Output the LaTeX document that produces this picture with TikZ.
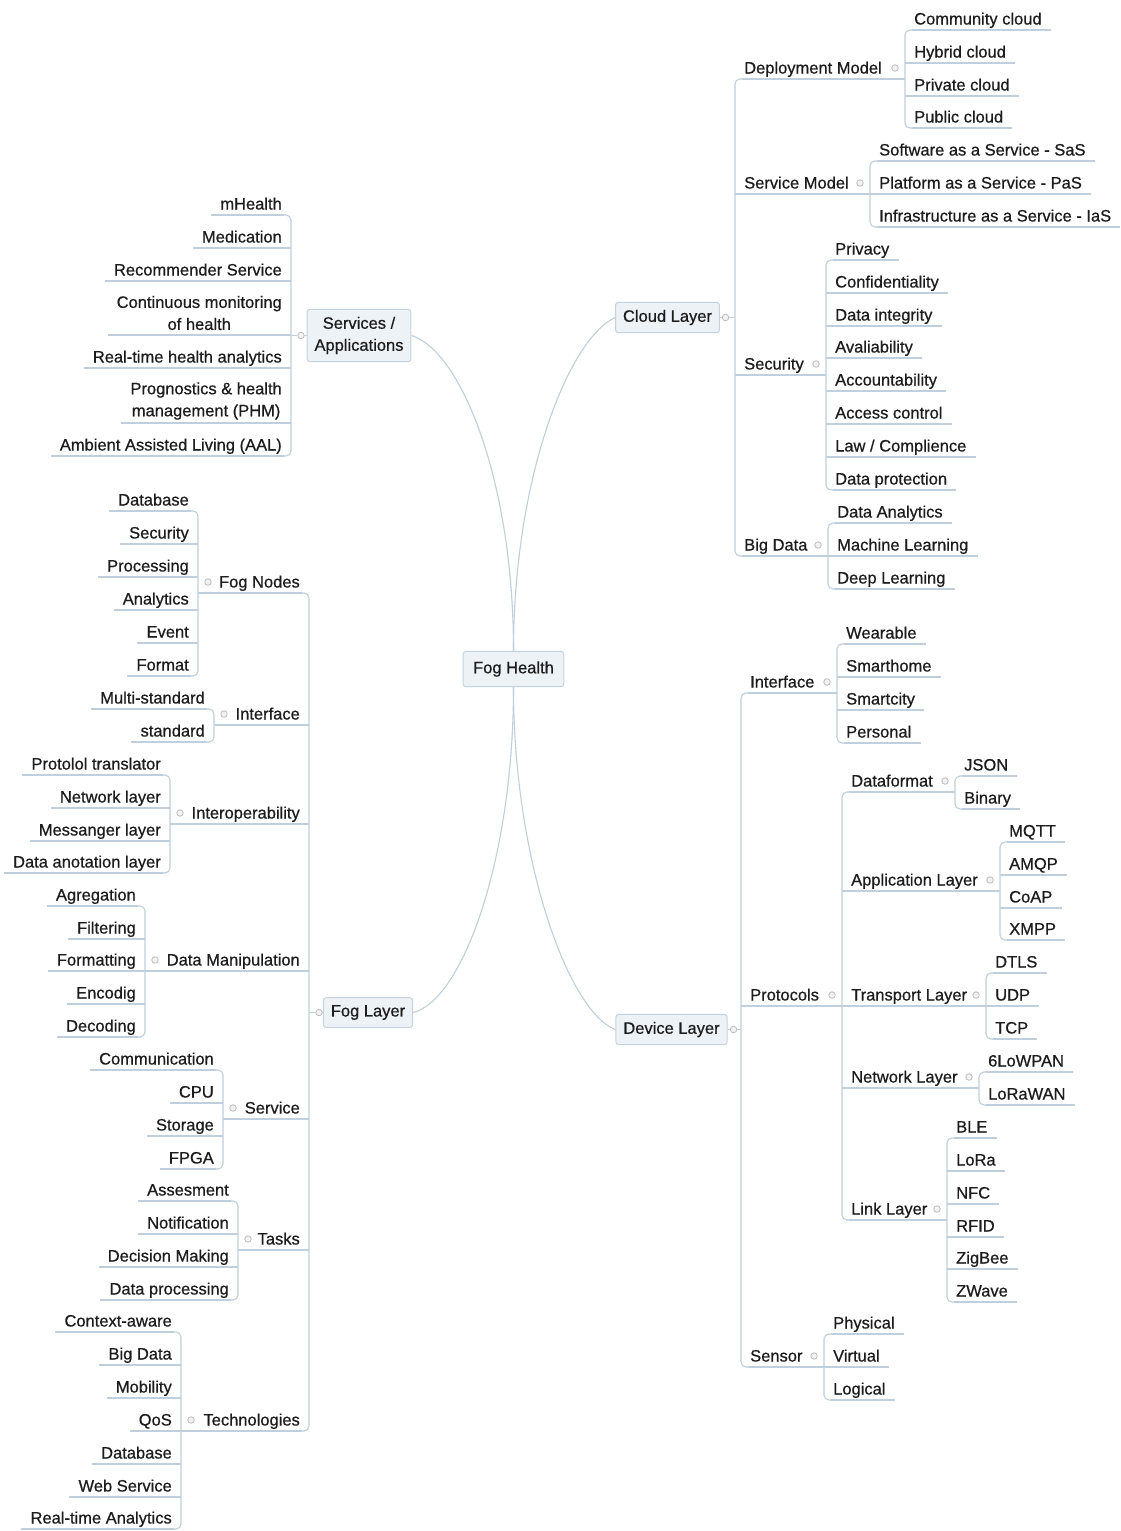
\documentclass[tikz,border=0pt]{standalone}
\usepackage{fontspec}
\setmainfont{Liberation Sans}[BoldFont=Liberation Sans, BoldFeatures={FakeBold=0.6}]
\usetikzlibrary{calc}

\definecolor{txt}{HTML}{1C1C1C}
\definecolor{lnc}{HTML}{BFCFDB}
\definecolor{boxfill}{HTML}{EDF2F7}
\definecolor{boxline}{HTML}{C4D2DE}
\definecolor{knobc}{HTML}{BDBDBD}

\tikzset{
  ln/.style={draw=lnc, line width=1.1pt},
  lbl/.style={font=\fontsize{16.5}{20}\selectfont\bfseries, text=txt, inner sep=0pt,
              text height=13.5pt, text depth=2.5pt},
  lbltwo/.style={font=\fontsize{16.5}{22}\selectfont\bfseries, text=txt, inner sep=0pt, align=center},
  topbox/.style={font=\fontsize{16.5}{22}\selectfont\bfseries, text=txt, draw=boxline, fill=boxfill,
                 line width=1pt, rounded corners=3pt, inner xsep=7.5pt, inner ysep=7.5pt, align=center},
  knob/.style={circle, draw=knobc, fill=gray!10, line width=0.8pt, inner sep=0pt, minimum size=6.5pt}
}

% children to the right of a branch line at x=#1; first / last text rows #2 / #3
% items: name/y/text/x of own branch line (0 for a leaf)
\newcommand\kidsR[4]{%
  \draw[ln, rounded corners=5pt] (#1+7,#2+11) -- (#1,#2+11) -- (#1,#3+11) -- (#1+7,#3+11);
  \foreach \nm/\yy/\tx/\xe in {#4}{%
    \node[lbl, anchor=west] (\nm) at (#1+9,\yy) {\tx};
    \ifdim\yy pt=#2pt \def\xs{#1+7}\else\ifdim\yy pt=#3pt \def\xs{#1+7}\else\def\xs{#1}\fi\fi
    \ifdim\xe pt=0pt
      \draw[ln] (\xs,\yy+11) -- ($(\nm.east)+(9,11)$);
    \else
      \draw[ln] (\xs,\yy+11) -- (\xe,\yy+11);
      \node[knob] (\nm-k) at (\xe-10,\yy) {};
    \fi
  }}

% mirrored version: children to the left of a branch line
\newcommand\kidsL[4]{%
  \draw[ln, rounded corners=5pt] (#1-7,#2+11) -- (#1,#2+11) -- (#1,#3+11) -- (#1-7,#3+11);
  \foreach \nm/\yy/\tx/\xe in {#4}{%
    \node[lbl, anchor=east] (\nm) at (#1-9,\yy) {\tx};
    \ifdim\yy pt=#2pt \def\xs{#1-7}\else\ifdim\yy pt=#3pt \def\xs{#1-7}\else\def\xs{#1}\fi\fi
    \ifdim\xe pt=0pt
      \draw[ln] (\xs,\yy+11) -- ($(\nm.west)+(-9,11)$);
    \else
      \draw[ln] (\xs,\yy+11) -- (\xe,\yy+11);
      \node[knob] (\nm-k) at (\xe+10,\yy) {};
    \fi
  }}

\begin{document}
\begin{tikzpicture}[x=1pt, y=-1pt]
\fill[white] (0,0) rectangle (1121,1531);
\path[use as bounding box] (0,0) rectangle (1121,1531);

% ---------- root and main branches ----------
\node[topbox, inner xsep=10pt, inner ysep=10pt] (fh) at (513.5,669) {Fog Health};
\node[topbox] (cloud) at (667.5,317.5) {Cloud Layer};
\node[topbox] (serv) at (359,335.5) {Services /\\Applications};
\node[topbox] (fog) at (368,1012.5) {Fog Layer};
\node[topbox] (dev) at (671.5,1029.5) {Device Layer};

\draw[ln] (fh.north) .. controls +(0,-171) and +(-47,22) .. (cloud.west);
\draw[ln] (fh.north) .. controls +(0,-171) and +(49,15) .. (serv.east);
\draw[ln] (fh.south) .. controls +(0,173) and +(49,-12) .. (fog.east);
\draw[ln] (fh.south) .. controls +(0,173) and +(-47,-18) .. (dev.west);

% ---------- Cloud Layer ----------
\node[knob] (cloud-k) at (725.5,317.5) {};
\coordinate (cloud-j) at (735,317.5);
\draw[ln] (cloud.east) -- (cloud-k) -- (cloud-j);
\kidsR{735}{68}{545}{dep/68/Deployment Model/905, svc/183/Service Model/870,
  sec/364/Security/826, bd/545/Big Data/828}
\kidsR{905}{19}{117}{cc/19/Community cloud/0, hc/52/Hybrid cloud/0,
  pc/85/Private cloud/0, puc/117/Public cloud/0}
\kidsR{870}{150}{216}{saas/150/Software as a Service - SaS/0,
  paas/183/Platform as a Service - PaS/0, iaas/216/Infrastructure as a Service - IaS/0}
\kidsR{826}{249}{479}{priv/249/Privacy/0, conf/282/Confidentiality/0,
  dint/315/Data integrity/0, aval/347/Avaliability/0, acct/380/Accountability/0,
  acc/413/Access control/0, law/446/{Law / Complience}/0, dprot/479/Data protection/0}
\kidsR{828}{512}{578}{da/512/Data Analytics/0, ml/545/Machine Learning/0,
  dl/578/Deep Learning/0}

% ---------- Device Layer ----------
\node[knob] (dev-k) at (733.5,1029.5) {};
\coordinate (dev-j) at (741,1029.5);
\draw[ln] (dev.east) -- (dev-k) -- (dev-j);
\kidsR{741}{682}{1356}{dif/682/Interface/837, prot/995/Protocols/842, sens/1356/Sensor/824}
\kidsR{837}{633}{732}{wear/633/Wearable/0, smh/666/Smarthome/0,
  smc/699/Smartcity/0, pers/732/Personal/0}
\kidsR{842}{781}{1209}{dfm/781/Dataformat/955, apl/880/Application Layer/1000,
  tpl/995/Transport Layer/986, nwl/1077/Network Layer/979, lnk/1209/Link Layer/947}
\kidsR{955}{765}{798}{json/765/JSON/0, bin/798/Binary/0}
\kidsR{1000}{831}{929}{mqtt/831/MQTT/0, amqp/864/AMQP/0, coap/897/CoAP/0, xmpp/929/XMPP/0}
\kidsR{986}{962}{1028}{dtls/962/DTLS/0, udp/995/UDP/0, tcp/1028/TCP/0}
\kidsR{979}{1061}{1094}{lowpan/1061/6LoWPAN/0, lorawan/1094/LoRaWAN/0}
\kidsR{947}{1127}{1291}{ble/1127/BLE/0, lora/1160/LoRa/0, nfc/1193/NFC/0,
  rfid/1226/RFID/0, zig/1258/ZigBee/0, zw/1291/ZWave/0}
\kidsR{824}{1323}{1389}{phy/1323/Physical/0, virt/1356/Virtual/0, logi/1389/Logical/0}

% ---------- Services / Applications ----------
\node[knob] (serv-k) at (301,335.5) {};
\coordinate (serv-j) at (291,335.5);
\draw[ln] (serv.west) -- (serv-k) -- (serv-j);
\kidsL{291}{204}{445}{mh/204/mHealth/0, med/237/Medication/0,
  rec/270/Recommender Service/0, rta/357/Real-time health analytics/0,
  aal/445/Ambient Assisted Living (AAL)/0}
\node[lbltwo, anchor=east] (cmh) at (282,313) {Continuous monitoring\\of health};
\draw[ln] (291,335) -- ($(cmh.west)+(-9,22)$);
\node[lbltwo, anchor=east] (phm) at (282,401) {Prognostics \& health\\management (PHM)};
\draw[ln] (291,423) -- ($(phm.west)+(-9,22)$);

% ---------- Fog Layer ----------
\node[knob] (fog-k) at (319,1012.5) {};
\coordinate (fog-j) at (309,1012.5);
\draw[ln] (fog.west) -- (fog-k) -- (fog-j);
\kidsL{309}{582}{1420}{fn/582/Fog Nodes/198, fif/714/Interface/214,
  iop/813/Interoperability/170, dmn/960/Data Manipulation/145, fsv/1108/Service/223,
  tsk/1239/Tasks/238, tech/1420/Technologies/181}
\kidsL{198}{500}{665}{fdb/500/Database/0, fsec/533/Security/0, proc/566/Processing/0,
  ana/599/Analytics/0, evt/632/Event/0, fmt/665/Format/0}
\kidsL{214}{698}{731}{ms/698/Multi-standard/0, std/731/standard/0}
\kidsL{170}{764}{862}{ptr/764/Protolol translator/0, nwk/797/Network layer/0,
  msg/830/Messanger layer/0, dan/862/Data anotation layer/0}
\kidsL{145}{895}{1026}{agr/895/Agregation/0, fil/928/Filtering/0, fmtg/960/Formatting/0,
  enc/993/Encodig/0, decd/1026/Decoding/0}
\kidsL{223}{1059}{1158}{com/1059/Communication/0, cpu/1092/CPU/0, sto/1125/Storage/0,
  fpga/1158/FPGA/0}
\kidsL{238}{1190}{1289}{ass/1190/Assesment/0, noti/1223/Notification/0,
  decm/1256/Decision Making/0, dpr/1289/Data processing/0}
\kidsL{181}{1321}{1518}{ctx/1321/Context-aware/0, bdt/1354/Big Data/0, mob/1387/Mobility/0,
  qos/1420/QoS/0, tdb/1453/Database/0, ws/1486/Web Service/0, rtan/1518/Real-time Analytics/0}

\end{tikzpicture}
\end{document}
